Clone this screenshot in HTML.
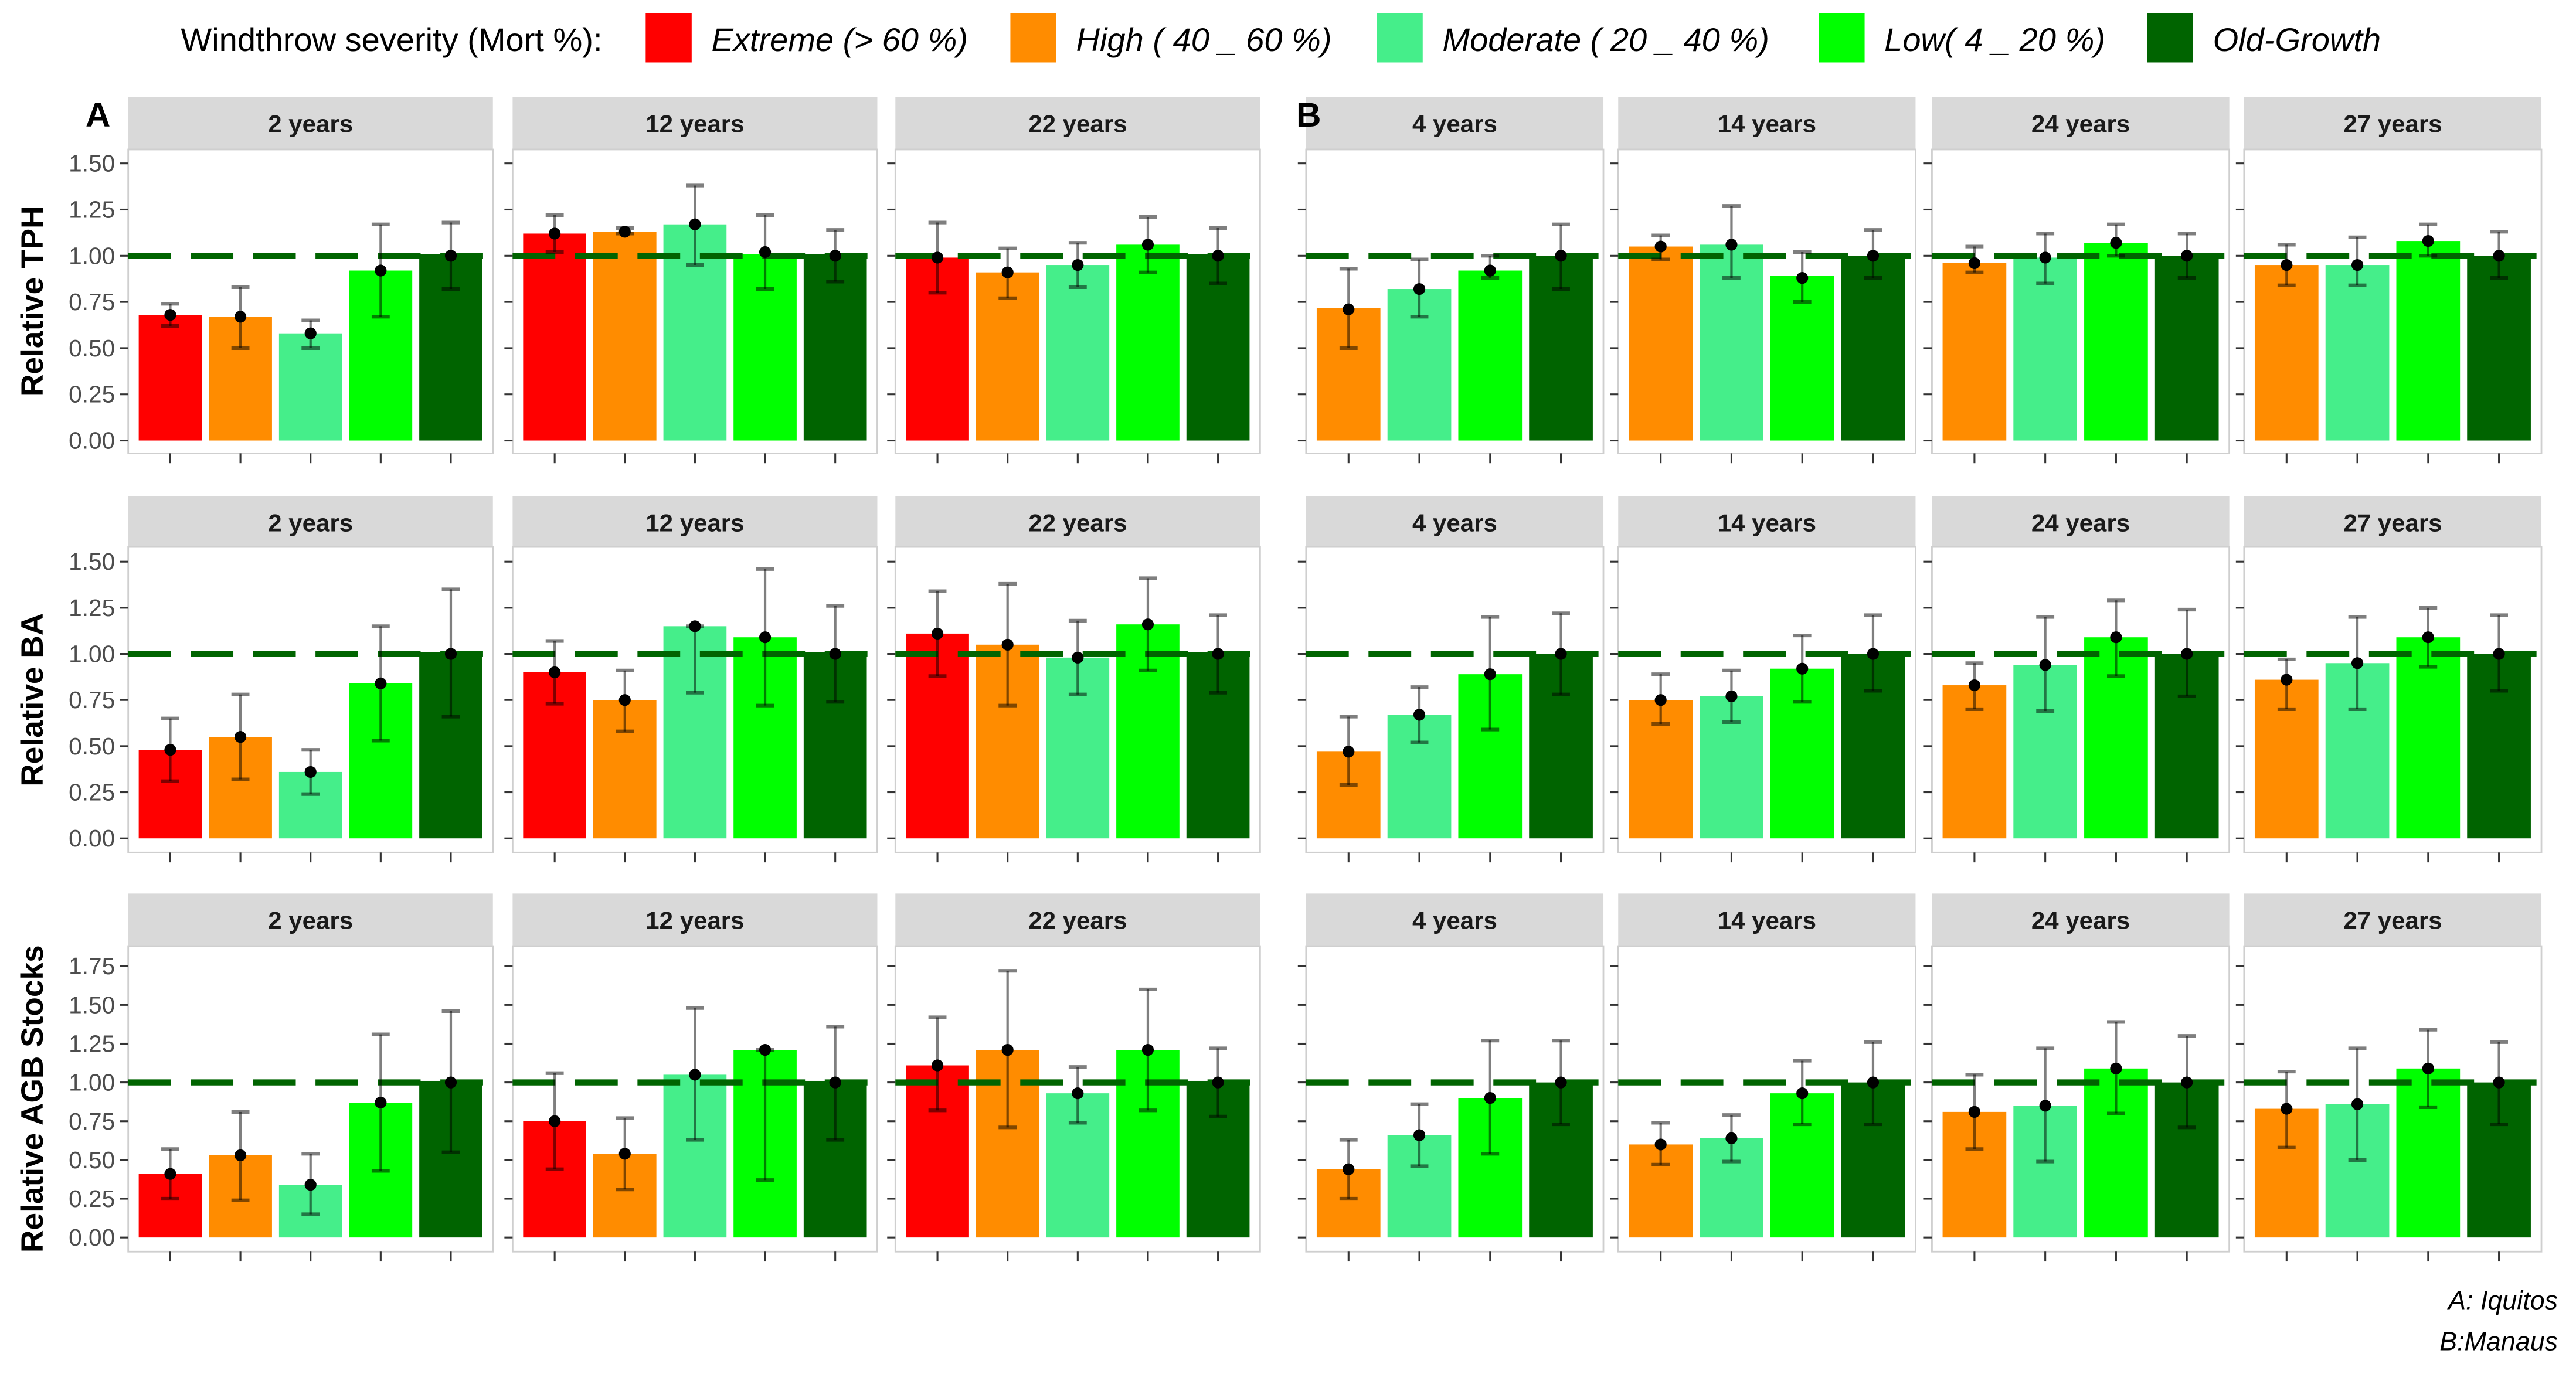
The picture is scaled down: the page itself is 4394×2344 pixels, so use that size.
<!DOCTYPE html>
<html><head><meta charset="utf-8">
<style>
html,body{margin:0;padding:0;background:#fff;}
svg{display:block;}
text{font-family:"Liberation Sans",Arial,sans-serif;}
</style></head>
<body>
<svg id="chart" width="4394" height="2344" viewBox="0 0 1568 836.5" xmlns="http://www.w3.org/2000/svg">
<rect x="0" y="0" width="1568" height="836.5" fill="#fff"/>
<g>
<text x="110" y="31" font-size="20" fill="#000">Windthrow severity (Mort %):</text>
<rect x="393" y="8" width="28" height="30" fill="#FF0000"/>
<text x="433" y="31" font-size="20" font-style="italic">Extreme (&gt; 60 %)</text>
<rect x="615" y="8" width="28" height="30" fill="#FF8C00"/>
<text x="655" y="31" font-size="20" font-style="italic">High ( 40 _ 60 %)</text>
<rect x="838" y="8" width="28" height="30" fill="#45EE8A"/>
<text x="878" y="31" font-size="20" font-style="italic">Moderate ( 20 _ 40 %)</text>
<rect x="1107" y="8" width="28" height="30" fill="#00FF00"/>
<text x="1147" y="31" font-size="20" font-style="italic">Low( 4 _ 20 %)</text>
<rect x="1307" y="8" width="28" height="30" fill="#006400"/>
<text x="1347" y="31" font-size="20" font-style="italic">Old-Growth</text>
</g>
<text x="1557" y="797" font-size="16" font-style="italic" text-anchor="end">A: Iquitos</text>
<text x="1557" y="822" font-size="16" font-style="italic" text-anchor="end">B:Manaus</text>
<g id="plots"></g>
<text x="52" y="77" font-size="21" font-weight="bold">A</text>
<text x="789" y="77" font-size="21" font-weight="bold">B</text>
</svg>
<script>
// categories
const catsA = ["Extreme","High","Moderate","Low","Old-Growth"];
const catsB = ["High","Moderate","Low","Old-Growth"];
const panelTitles = ["2 years","12 years","22 years","4 years","14 years","24 years","27 years"];
const rowTitles = ["Relative TPH","Relative BA","Relative AGB Stocks"];
const ticksTPH = ["0.00","0.25","0.50","0.75","1.00","1.25","1.50"];
const ticksAGB = ["0.00","0.25","0.50","0.75","1.00","1.25","1.50","1.75"];
// TPH
const tphBar = [[0.68,0.67,0.58,0.92,1.01],[1.12,1.13,1.17,1.01,1.01],[0.99,0.91,0.95,1.06,1.01],[0.716,0.82,0.92,1.0],[1.05,1.06,0.89,1.0],[0.96,0.99,1.07,1.0],[0.95,0.95,1.08,1.0]];
const tphPt  = [[0.68,0.67,0.58,0.92,1.0],[1.12,1.13,1.17,1.02,1.0],[0.99,0.91,0.95,1.06,1.0],[0.71,0.82,0.92,1.0],[1.05,1.06,0.88,1.0],[0.96,0.99,1.07,1.0],[0.95,0.95,1.08,1.0]];
const tphLo  = [[0.62,0.50,0.50,0.67,0.82],[1.02,1.12,0.95,0.82,0.86],[0.80,0.77,0.83,0.91,0.85],[0.50,0.67,0.88,0.82],[0.98,0.88,0.75,0.88],[0.91,0.85,1.0,0.88],[0.84,0.84,1.0,0.88]];
const tphHi  = [[0.74,0.83,0.65,1.17,1.18],[1.22,1.15,1.38,1.22,1.14],[1.18,1.04,1.07,1.21,1.15],[0.93,0.98,1.0,1.17],[1.11,1.27,1.02,1.14],[1.05,1.12,1.17,1.12],[1.06,1.10,1.17,1.13]];
// BA
const baBar = [[0.48,0.55,0.36,0.84,1.01],[0.90,0.75,1.15,1.09,1.01],[1.11,1.05,0.98,1.16,1.01],[0.47,0.67,0.89,1.0],[0.75,0.77,0.92,1.0],[0.83,0.94,1.09,1.0],[0.86,0.95,1.09,1.0]];
const baPt  = [[0.48,0.55,0.36,0.84,1.0],[0.90,0.75,1.15,1.09,1.0],[1.11,1.05,0.98,1.16,1.0],[0.47,0.67,0.89,1.0],[0.75,0.77,0.92,1.0],[0.83,0.94,1.09,1.0],[0.86,0.95,1.09,1.0]];
const baLo  = [[0.31,0.32,0.24,0.53,0.66],[0.73,0.58,0.79,0.72,0.74],[0.88,0.72,0.78,0.91,0.79],[0.29,0.52,0.59,0.78],[0.62,0.63,0.74,0.80],[0.70,0.69,0.88,0.77],[0.70,0.70,0.93,0.80]];
const baHi  = [[0.65,0.78,0.48,1.15,1.35],[1.07,0.91,1.15,1.46,1.26],[1.34,1.38,1.18,1.41,1.21],[0.66,0.82,1.20,1.22],[0.89,0.91,1.10,1.21],[0.95,1.20,1.29,1.24],[0.97,1.20,1.25,1.21]];
// AGB
const agbBar = [[0.41,0.53,0.34,0.87,1.01],[0.75,0.54,1.05,1.21,1.01],[1.11,1.21,0.93,1.21,1.01],[0.44,0.66,0.90,1.0],[0.60,0.64,0.93,1.0],[0.81,0.85,1.09,1.0],[0.83,0.86,1.09,1.0]];
const agbPt  = [[0.41,0.53,0.34,0.87,1.0],[0.75,0.54,1.05,1.21,1.0],[1.11,1.21,0.93,1.21,1.0],[0.44,0.66,0.90,1.0],[0.60,0.64,0.93,1.0],[0.81,0.85,1.09,1.0],[0.83,0.86,1.09,1.0]];
const agbLo  = [[0.25,0.24,0.15,0.43,0.55],[0.44,0.31,0.63,0.37,0.63],[0.82,0.71,0.74,0.82,0.78],[0.25,0.46,0.54,0.73],[0.47,0.49,0.73,0.73],[0.57,0.49,0.80,0.71],[0.58,0.50,0.84,0.73]];
const agbHi  = [[0.57,0.81,0.54,1.31,1.46],[1.06,0.77,1.48,1.21,1.36],[1.42,1.72,1.10,1.60,1.22],[0.63,0.86,1.27,1.27],[0.74,0.79,1.14,1.26],[1.05,1.22,1.39,1.30],[1.07,1.22,1.34,1.26]];

const colorsA = ["#FF0000","#FF8C00","#45EE8A","#00FF00","#006400"];
const colorsB = ["#FF8C00","#45EE8A","#00FF00","#006400"];
const NS = "http://www.w3.org/2000/svg";
const root = document.getElementById("plots");
const panelX = [[78,300],[312,534],[545,767],[795,976],[985,1166],[1176,1357],[1366,1547]];
const rows = [
 {name:"tph", strip:59, top:91, bottom:276, y0:268.2, k:112.5, ticks:ticksTPH, bar:tphBar, pt:tphPt, lo:tphLo, hi:tphHi},
 {name:"ba", strip:302, top:333, bottom:519, y0:510.4, k:112.3, ticks:ticksTPH, bar:baBar, pt:baPt, lo:baLo, hi:baHi},
 {name:"agb", strip:544, top:576, bottom:762, y0:753.4, k:94.4, ticks:ticksAGB, bar:agbBar, pt:agbPt, lo:agbLo, hi:agbHi}
];
function mk(tag, attrs, parent){const e=document.createElementNS(NS,tag);for(const k in attrs)e.setAttribute(k,attrs[k]);(parent||root).appendChild(e);return e;}

rows.forEach((r, ri)=>{
  const ys = v => r.y0 - v*r.k;
  const g = mk("g",{});
  
  
  const cy=(r.top+r.bottom)/2;
  const t = mk("text",{x:0,y:0,"font-size":19,"font-weight":"bold","text-anchor":"middle",transform:`translate(26,${cy}) rotate(-90)`},g);
  t.textContent = rowTitles[ri];
  
  
  panelX.forEach((px, pi)=>{
    const isA = pi<3;
    const cats = isA?catsA:catsB;
    const cols = isA?colorsA:colorsB;
    const [L,R] = px;
    const u = (R-L)/(cats.length-1+1.2);
    const xs = i => L + (0.6+i)*u;
    const pg = mk("g",{},g);
    
    
    const st = mk("rect",{x:L,y:r.strip,width:R-L,height:r.top-r.strip,fill:"#D9D9D9"},pg);
    
    
    const stt = mk("text",{x:(L+R)/2,y:r.strip+21.5,"font-size":15,"font-weight":"bold","text-anchor":"middle",fill:"#1a1a1a"},pg);
    stt.textContent = panelTitles[pi];
    
    
    const pb = mk("rect",{x:L,y:r.top,width:R-L,height:r.bottom-r.top,fill:"#fff",stroke:"#cfcfcf","stroke-width":1},pg);
    
    
    r.ticks.forEach((lab, ti)=>{
      const v = parseFloat(lab);
      const tk = mk("line",{x1:L-5,x2:L,y1:ys(v),y2:ys(v),stroke:"#333","stroke-width":1.1},pg);
      
      
      if(pi===0){
        const tl = mk("text",{x:L-8,y:ys(v)+5,"font-size":14.5,"text-anchor":"end",fill:"#4d4d4d"},pg);
        tl.textContent = lab;
        
        
      }
    });
    cats.forEach((c,i)=>{
      const v = r.bar[pi][i];
      const b = mk("rect",{x:xs(i)-0.45*u,y:ys(v),width:0.9*u,height:ys(0)-ys(v),fill:cols[i]},pg);
      
      
      const xt = mk("line",{x1:xs(i),x2:xs(i),y1:r.bottom,y2:r.bottom+6,stroke:"#333","stroke-width":1.1},pg);
      
      
    });
    const hl = mk("line",{x1:L,x2:R,y1:ys(1),y2:ys(1),stroke:"#006400","stroke-width":3.7,"stroke-dasharray":"26 12"},pg);
    
    
    cats.forEach((c,i)=>{
      const x = xs(i), lo = ys(r.lo[pi][i]), hi = ys(r.hi[pi][i]);
      const eg = mk("g",{stroke:"#000","stroke-opacity":0.5},pg);
      
      
      mk("line",{x1:x,x2:x,y1:lo,y2:hi,"stroke-width":1.5},eg);
      mk("line",{x1:x-5.5,x2:x+5.5,y1:lo,y2:lo,"stroke-width":2.2},eg);
      mk("line",{x1:x-5.5,x2:x+5.5,y1:hi,y2:hi,"stroke-width":2.2},eg);
      const p = mk("circle",{cx:x,cy:ys(r.pt[pi][i]),r:3.6,fill:"#000"},pg);
      
      
    });
  });
});
</script>
</body></html>
